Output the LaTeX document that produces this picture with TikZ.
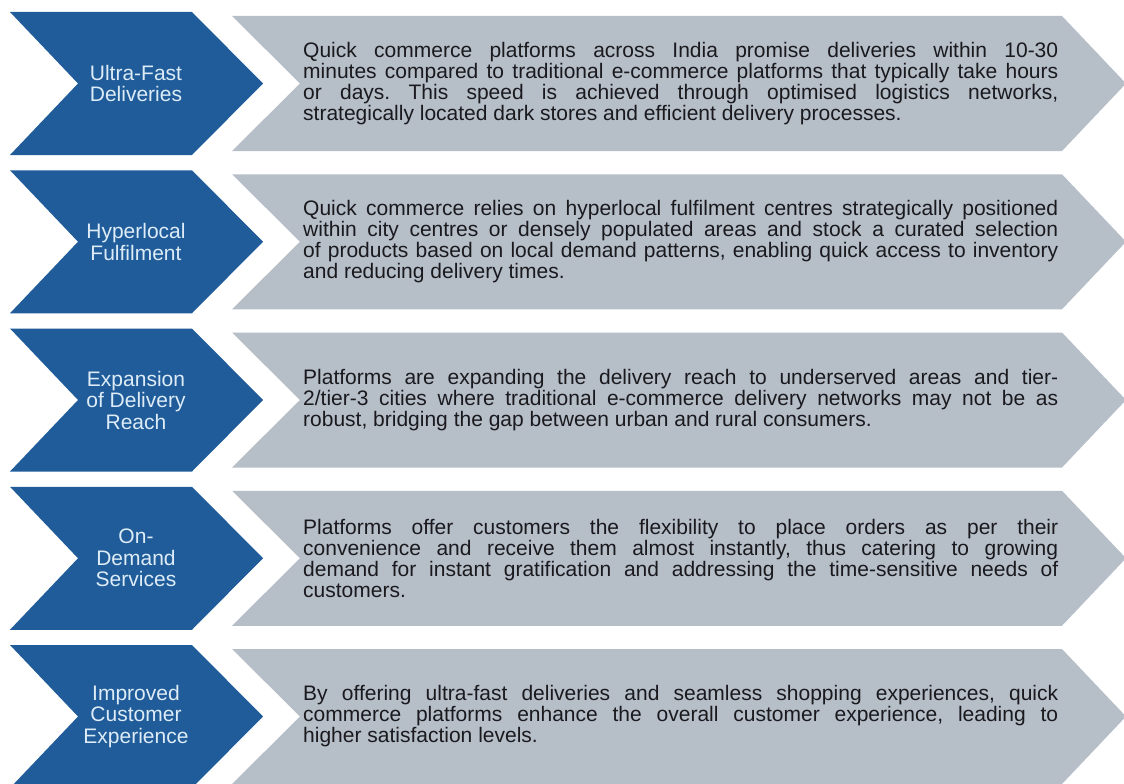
\documentclass[tikz,border=0pt]{standalone}
\usepackage{fontspec}
\setmainfont{Liberation Sans}[Ligatures=NoCommon]
\definecolor{chevblue}{RGB}{31,92,153}
\definecolor{chevgray}{RGB}{182,190,200}
\definecolor{labeltext}{RGB}{222,236,248}
\definecolor{bodytext}{RGB}{26,26,30}
\begin{document}
\frenchspacing
\tolerance=10000
\hyphenpenalty=10000
\begin{tikzpicture}[x=1bp,y=-1bp,
  labelbox/.style={text=labeltext, align=center, inner sep=0pt,
    font=\fontsize{21bp}{21.5bp}\selectfont},
  bodybox/.style={text=bodytext, text width=755bp, align=justify, anchor=west,
    inner sep=0pt, font=\fontsize{21bp}{21bp}\selectfont},
  bluechev/.style={fill=chevblue},
  graychev/.style={fill=chevgray}]
\useasboundingbox (0,0) rectangle (1124,784);

% five rows: a dark chevron with the heading, a grey chevron with the text
\foreach \i in {0,...,4}{
  \pgfmathsetmacro\t{12+158.25*\i}
  \fill[bluechev] (10,\t) -- (192,\t) -- (263,\t+71.5) -- (192,\t+143)
    -- (10,\t+143) -- (78,\t+71.5) -- cycle;
  \fill[graychev] (232,\t+4) -- (1062,\t+4) -- (1126,\t+71.5) -- (1062,\t+139)
    -- (232,\t+139) -- (300,\t+71.5) -- cycle;
}

\node[labelbox] (lab1) at (136,83.5) {Ultra-Fast\\Deliveries};
\node[labelbox] (lab2) at (136,241.75) {Hyperlocal\\Fulfilment};
\node[labelbox] (lab3) at (136,400) {Expansion\\of Delivery\\Reach};
\node[labelbox] (lab4) at (136,558.25) {On-\\Demand\\Services};
\node[labelbox] (lab5) at (136,716.5) {Improved\\Customer\\Experience};

\node[bodybox] (txt1) at (303,83.5) {Quick commerce platforms across India promise deliveries within 10-30\linebreak
minutes compared to traditional e-commerce platforms that typically take hours\linebreak
or days. This speed is achieved through optimised logistics networks,\linebreak
strategically located dark stores and efficient delivery processes.};

\node[bodybox] (txt2) at (303,241.75) {Quick commerce relies on hyperlocal fulfilment centres strategically positioned\linebreak
within city centres or densely populated areas and stock a curated selection\linebreak
of products based on local demand patterns, enabling quick access to inventory\linebreak
and reducing delivery times.};

\node[bodybox] (txt3) at (303,400) {Platforms are expanding the delivery reach to underserved areas and tier-\linebreak
2/tier-3 cities where traditional e-commerce delivery networks may not be as\linebreak
robust, bridging the gap between urban and rural consumers.};

\node[bodybox] (txt4) at (303,558.25) {Platforms offer customers the flexibility to place orders as per their\linebreak
convenience and receive them almost instantly, thus catering to growing\linebreak
demand for instant gratification and addressing the time-sensitive needs of\linebreak
customers.};

\node[bodybox] (txt5) at (303,716.5) {By offering ultra-fast deliveries and seamless shopping experiences, quick\linebreak
commerce platforms enhance the overall customer experience, leading to\linebreak
higher satisfaction levels.};
\end{tikzpicture}
\end{document}
